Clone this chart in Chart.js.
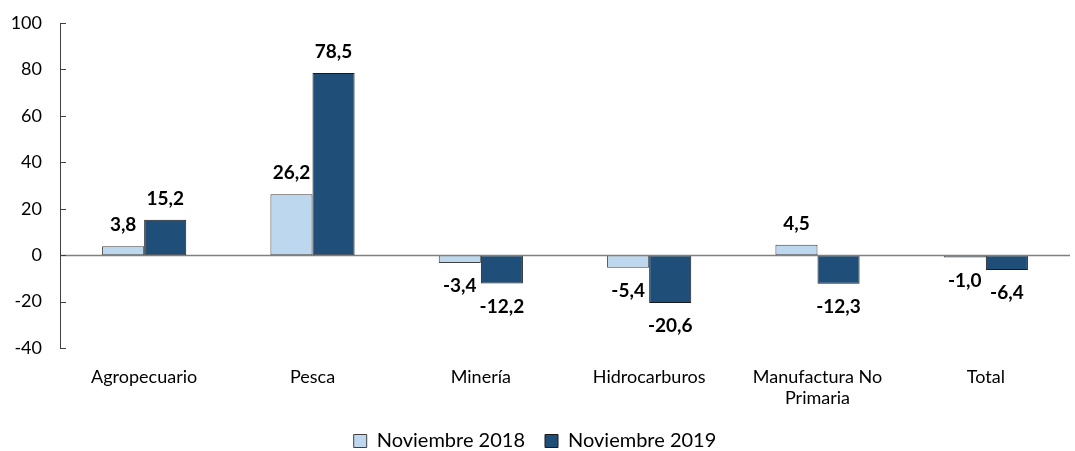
<!DOCTYPE html>
<html>
<head>
<meta charset="utf-8">
<script src="https://cdn.jsdelivr.net/npm/chart.js@4"></script>
<style>
  html, body { margin: 0; padding: 0; background: #fff; }
  #wrap { width: 1075px; height: 451px; }
</style>
</head>
<body>
<div id="wrap"><canvas id="myChart" width="1075" height="451"></canvas></div>
<script>
const categories = ['Agropecuario', 'Pesca', 'Minería', 'Hidrocarburos', ['Manufactura No', 'Primaria'], 'Total'];
const nov2018 = [3.8, 26.2, -3.4, -5.4, 4.5, -1.0];
const nov2019 = [15.2, 78.5, -12.2, -20.6, -12.3, -6.4];
const yTicks = [-40, -20, 0, 20, 40, 60, 80, 100];

const textFont = 'Lato, "Open Sans", sans-serif';

// value labels, axis ticks and zero line
const extras = {
  id: 'extras',
  afterDatasetsDraw(chart) {
    const ctx = chart.ctx;
    const y = chart.scales.y;
    const area = chart.chartArea;
    ctx.save();
    // zero line
    ctx.strokeStyle = '#808080';
    ctx.lineWidth = 1.5;
    ctx.beginPath();
    ctx.moveTo(area.left, Math.round(y.getPixelForValue(0)) + 0.5);
    ctx.lineTo(area.right, Math.round(y.getPixelForValue(0)) + 0.5);
    ctx.stroke();
    // axis line and small ticks
    ctx.strokeStyle = '#404040';
    ctx.lineWidth = 1;
    ctx.beginPath();
    ctx.moveTo(area.left + 0.5, y.getPixelForValue(100));
    ctx.lineTo(area.left + 0.5, y.getPixelForValue(-40));
    yTicks.forEach(t => {
      const py = Math.round(y.getPixelForValue(t)) + 0.5;
      ctx.moveTo(area.left, py);
      ctx.lineTo(area.left + 6, py);
    });
    ctx.stroke();
    // data labels
    ctx.fillStyle = '#000';
    ctx.font = 'bold 19px ' + textFont;
    ctx.textAlign = 'center';
    ctx.textBaseline = 'middle';
    chart.data.datasets.forEach((ds, i) => {
      chart.getDatasetMeta(i).data.forEach((bar, j) => {
        const v = ds.data[j];
        const txt = v.toFixed(1).replace('.', ',');
        const py = v >= 0 ? bar.y - 21 : bar.y + 23;
        ctx.fillText(txt, bar.x, py);
      });
    });
    ctx.restore();
  }
};

function makeChart() {
  const ctx = document.getElementById('myChart');
  return new Chart(ctx, {
    type: 'bar',
    data: {
      labels: categories,
      datasets: [{
        label: 'Noviembre 2018',
        data: nov2018,
        backgroundColor: '#BDD7EE',
        borderColor: '#404040',
        borderWidth: 1,
        borderSkipped: false
      }, {
        label: 'Noviembre 2019',
        data: nov2019,
        backgroundColor: '#1F4E79',
        borderColor: '#1a1a1a',
        borderWidth: 1,
        borderSkipped: false
      }]
    },
    options: {
      responsive: false,
      animation: false,
      layout: { padding: { top: 23, right: 5, left: 0, bottom: -10 } },
      datasets: { bar: { categoryPercentage: 0.5, barPercentage: 1.0 } },
      plugins: {
        tooltip: { enabled: false },
        legend: {
          position: 'bottom',
          labels: {
            color: '#000',
            font: { family: textFont, size: 20 },
            boxWidth: 13,
            boxHeight: 13,
            padding: 20
          }
        }
      },
      scales: {
        y: {
          min: -40,
          max: 100,
          afterBuildTicks: (scale) => { scale.ticks = yTicks.map(v => ({ value: v })); },
          afterFit: (scale) => { scale.width = 60; scale.paddingTop = 0; scale.paddingBottom = 0; },
          grid: { display: false, drawTicks: false },
          border: { display: false },
          ticks: {
            color: '#000',
            padding: 18,
            font: { family: textFont, size: 18 }
          }
        },
        x: {
          afterFit: (scale) => { scale.height = 63; },
          grid: { display: false, drawTicks: false },
          border: { display: false },
          ticks: {
            color: '#000',
            padding: 18,
            font: { family: textFont, size: 18 }
          }
        }
      }
    },
    plugins: [extras]
  });
}

document.addEventListener('DOMContentLoaded', function() {
  makeChart();
});
</script>
</body>
</html>
